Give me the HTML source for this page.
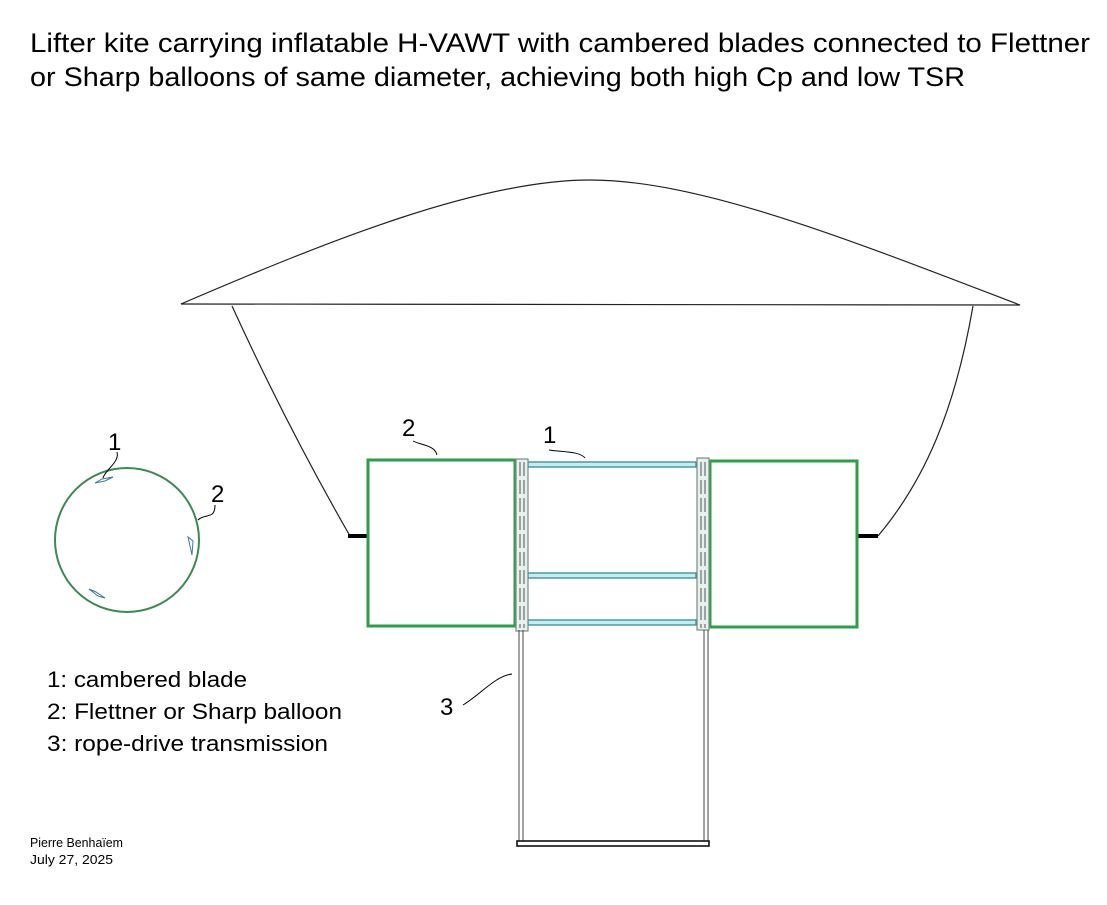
<!DOCTYPE html>
<html><head><meta charset="utf-8"><style>
html,body{margin:0;padding:0;background:#fff;}
svg{display:block;}
text{font-family:"Liberation Sans Narrow","Liberation Sans",sans-serif;fill:#000;}
</style></head><body>
<svg width="1107" height="905" viewBox="0 0 1107 905" xmlns="http://www.w3.org/2000/svg">
<text x="30" y="52" font-size="27" textLength="1060" lengthAdjust="spacingAndGlyphs">Lifter kite carrying inflatable H-VAWT with cambered blades connected to Flettner</text>
<text x="30" y="86" font-size="27" textLength="935" lengthAdjust="spacingAndGlyphs">or Sharp balloons of same diameter, achieving both high Cp and low TSR</text>

<!-- kite -->
<path d="M181,304 C330,240 480,180 590,180 C700,180 850,240 1020,305 L181,304 Z" fill="none" stroke="#222" stroke-width="1.2"/>
<path d="M232,306 C275,400 315,475 350,536" fill="none" stroke="#222" stroke-width="1.2"/>
<path d="M973,306 C955,410 925,480 878,536" fill="none" stroke="#222" stroke-width="1.2"/>
<line x1="348" y1="536" x2="369" y2="536" stroke="#000" stroke-width="4"/>
<line x1="856" y1="536" x2="878" y2="536" stroke="#000" stroke-width="4"/>

<!-- balloons -->
<rect x="368" y="460" width="147" height="166" fill="none" stroke="#2e9e4a" stroke-width="3"/>
<rect x="710" y="461" width="147" height="166" fill="none" stroke="#2e9e4a" stroke-width="3"/>

<!-- blades -->
<g fill="#bfeff5" stroke="#3a8a8e" stroke-width="1.3">
<rect x="528" y="462" width="168" height="5"/>
<rect x="528" y="573" width="168" height="5"/>
<rect x="528" y="620" width="168" height="5"/>
</g>
<!-- shafts -->
<g fill="#e8f0ee" stroke="#7a8a85" stroke-width="1.2">
<rect x="516" y="459" width="12" height="172"/>
<rect x="697" y="458" width="12" height="172"/>
</g>
<g stroke="#555" stroke-width="1" stroke-dasharray="14,4">
<line x1="520" y1="462" x2="520" y2="628"/><line x1="524" y1="462" x2="524" y2="628"/>
<line x1="701" y1="462" x2="701" y2="628"/><line x1="705" y1="462" x2="705" y2="628"/>
</g>

<!-- rope drive -->
<g stroke="#444" stroke-width="1">
<line x1="519" y1="630" x2="519" y2="841"/><line x1="523" y1="630" x2="523" y2="841"/>
<line x1="704" y1="630" x2="704" y2="841"/><line x1="708" y1="630" x2="708" y2="841"/>
</g>
<rect x="517" y="841" width="192" height="5" fill="#fff" stroke="#111" stroke-width="1.6"/>

<!-- circle -->
<circle cx="127" cy="540" r="72" fill="none" stroke="#3a8a55" stroke-width="2"/>
<g fill="none" stroke="#3a7a9a" stroke-width="1">
<path d="M95,483 L102,479 L113,477 L105,481 Z"/>
<path d="M188,537 L193,541 L192,555 Z"/>
<path d="M89,589 L98,596 L105,598 L96,592 Z"/>
</g>

<!-- leaders -->
<g fill="none" stroke="#000" stroke-width="1">
<path d="M117,452 C120,462 105,470 103,478"/>
<path d="M215,505 C215,520 205,513 198,520"/>
<path d="M413,441 C420,445 435,445 437,455"/>
<path d="M549,450 C560,452 580,451 585,458"/>
<path d="M463,705 C480,695 495,676 512,674"/>
</g>
<text x="402" y="436" font-size="24">2</text>
<text x="543" y="443" font-size="24">1</text>
<text x="440" y="715" font-size="24">3</text>
<text x="108" y="450" font-size="24">1</text>
<text x="211" y="502" font-size="24">2</text>

<text x="47" y="687" font-size="22" textLength="200" lengthAdjust="spacingAndGlyphs">1: cambered blade</text>
<text x="47" y="719" font-size="22" textLength="295" lengthAdjust="spacingAndGlyphs">2: Flettner or Sharp balloon</text>
<text x="47" y="751" font-size="22" textLength="281" lengthAdjust="spacingAndGlyphs">3: rope-drive transmission</text>
<text x="30" y="847" font-size="13" textLength="93" lengthAdjust="spacingAndGlyphs">Pierre Benhaïem</text>
<text x="30" y="864" font-size="13" textLength="83" lengthAdjust="spacingAndGlyphs">July 27, 2025</text>
</svg>
</body></html>
